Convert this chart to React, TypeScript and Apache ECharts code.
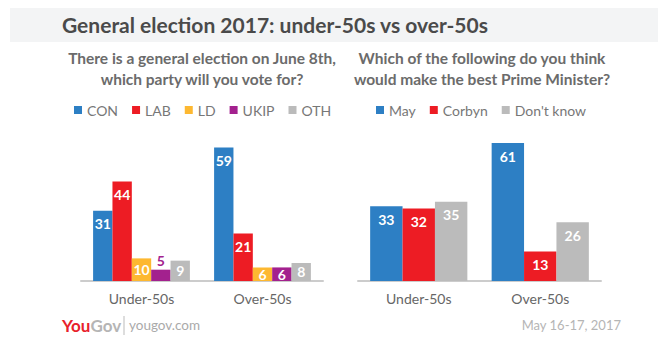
import React, { useEffect, useRef } from "react";
import * as echarts from "echarts";

const categories = ["Under-50s", "Over-50s"];
const partyNames = ["CON", "LAB", "LD", "UKIP", "OTH"];
const con = [31, 59];
const lab = [44, 21];
const ld = [10, 6];
const ukip = [5, 6];
const oth = [9, 8];
const pmNames = ["May", "Corbyn", "Don't know"];
const may = [33, 61];
const corbyn = [32, 13];
const dontKnow = [35, 26];

const FONT = "Lato";
const C = {
  blue: "#2d7fc4",
  red: "#ed1c24",
  yellow: "#fdb831",
  purple: "#a3218e",
  gray: "#bbbbbb",
};

export default function App() {
  const ref = useRef<HTMLDivElement>(null);
  useEffect(() => {
    document.body.style.margin = "0";
    const chart = echarts.init(ref.current!, null, { renderer: "svg" });
    const label = {
      show: true,
      position: "insideTop",
      color: "#fff",
      fontWeight: "bold",
      fontSize: 14,
      fontFamily: FONT,
      distance: 6,
    };
    const withSmall = (data: number[], color: string) =>
      data.map((v, i) => {
        if (color === C.purple && i === 0) {
          return { value: v, label: { position: "top", color: C.purple, distance: 2 } };
        }
        if (v <= 10) {
          return { value: v, label: { position: "inside" } };
        }
        return v;
      });
    const bar = (name: string, data: number[], color: string, idx: number) => ({
      name,
      type: "bar",
      xAxisIndex: idx,
      yAxisIndex: idx,
      data: withSmall(data, color),
      itemStyle: { color },
      label,
      labelLayout: { hideOverlap: false },
      barGap: "0%",
      barCategoryGap: "20%",
    });
    const axisX = (idx: number) => ({
      type: "category",
      gridIndex: idx,
      data: categories,
      axisLine: { lineStyle: { color: "#cccccc", width: 2 } },
      axisTick: { show: false },
      axisLabel: { color: "#666", fontSize: 14, fontFamily: FONT, margin: 10 },
    });
    const axisY = (idx: number) => ({
      type: "value",
      gridIndex: idx,
      min: 0,
      max: 61,
      show: false,
      splitLine: { show: false },
    });
    const legendBase = {
      top: 98,
      icon: "rect",
      itemWidth: 8,
      itemHeight: 8,
      itemGap: 14,
      textStyle: { color: "#777", fontSize: 14, fontFamily: FONT },
    };
    chart.setOption({
      animation: false,
      textStyle: { fontFamily: FONT },
      grid: [
        { left: 81, width: 242, top: 143, height: 138 },
        { left: 358, width: 243, top: 143, height: 138 },
      ],
      xAxis: [axisX(0), axisX(1)],
      yAxis: [axisY(0), axisY(1)],
      legend: [
        { ...legendBase, data: partyNames, left: 69 },
        { ...legendBase, data: pmNames, left: 371 },
      ],
      series: [
        bar("CON", con, C.blue, 0),
        bar("LAB", lab, C.red, 0),
        bar("LD", ld, C.yellow, 0),
        bar("UKIP", ukip, C.purple, 0),
        bar("OTH", oth, C.gray, 0),
        bar("May", may, C.blue, 1),
        bar("Corbyn", corbyn, C.red, 1),
        bar("Don't know", dontKnow, C.gray, 1),
      ],
      graphic: [
        {
          type: "rect",
          shape: { x: 10, y: 8, width: 648, height: 34 },
          style: { fill: "#f3f4f5" },
          silent: true,
        },
        {
          type: "text",
          x: 62,
          y: 24,
          style: {
            text: "General election 2017: under-50s vs over-50s",
            fontSize: 21,
            fontWeight: "bold",
            fontFamily: FONT,
            fill: "#4a4a4a",
            verticalAlign: "middle",
          },
        },
        {
          type: "text",
          x: 202,
          y: 68,
          style: {
            text: "There is a general election on June 8th,\nwhich party will you vote for?",
            fontSize: 15.5,
            fontWeight: "bold",
            fontFamily: FONT,
            fill: "#6b6b6b",
            align: "center",
            verticalAlign: "middle",
            lineHeight: 21,
          },
        },
        {
          type: "text",
          x: 482,
          y: 68,
          style: {
            text: "Which of the following do you think\nwould make the best Prime Minister?",
            fontSize: 15.5,
            fontWeight: "bold",
            fontFamily: FONT,
            fill: "#6b6b6b",
            align: "center",
            verticalAlign: "middle",
            lineHeight: 21,
          },
        },
        {
          type: "text",
          x: 62,
          y: 325,
          style: {
            text: "{a|You}{b|Gov}",
            verticalAlign: "middle",
            rich: {
              a: { fill: "#e8212b", fontSize: 17, fontWeight: "bold", fontFamily: FONT },
              b: { fill: "#b5b5b5", fontSize: 17, fontWeight: "bold", fontFamily: FONT },
            },
          },
        },
        {
          type: "line",
          shape: { x1: 124, y1: 316, x2: 124, y2: 335 },
          style: { stroke: "#bbb", lineWidth: 1 },
        },
        {
          type: "text",
          x: 129,
          y: 325,
          style: {
            text: "yougov.com",
            fontSize: 13.5,
            fontFamily: FONT,
            fill: "#aaa",
            verticalAlign: "middle",
          },
        },
        {
          type: "text",
          x: 621,
          y: 325,
          style: {
            text: "May 16-17, 2017",
            fontSize: 13,
            fontFamily: FONT,
            fill: "#b5b5b5",
            align: "right",
            verticalAlign: "middle",
          },
        },
      ],
    });
    return () => chart.dispose();
  }, []);
  return <div ref={ref} style={{ width: 658, height: 352 }} />;
}
